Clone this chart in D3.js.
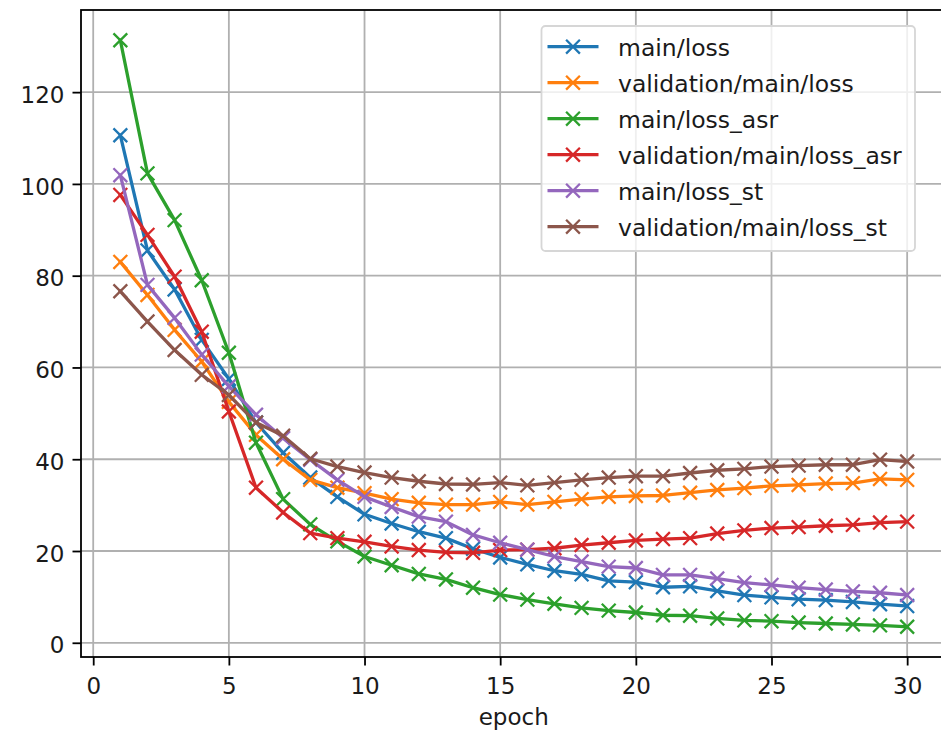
<!DOCTYPE html>
<html>
<head>
<meta charset="utf-8">
<script src="https://cdn.jsdelivr.net/npm/d3@7"></script>
<style>
body { margin: 0; background: #fff; }
svg { display: block; }
text { font-family: "DejaVu Sans", sans-serif; }
</style>
</head>
<body>
<script>
var epochs = d3.range(1, 31);
var seriesNames = ['main/loss', 'validation/main/loss', 'main/loss_asr',
                   'validation/main/loss_asr', 'main/loss_st', 'validation/main/loss_st'];
var seriesColors = ['#1f77b4', '#ff7f0e', '#2ca02c', '#d62728', '#9467bd', '#8c564b'];

var mainLoss = [110.6, 85.5, 77.0, 66.0, 57.5, 48.0, 41.4, 36.0, 31.8, 28.0,
                26.0, 24.2, 22.8, 20.5, 18.6, 17.1, 15.7, 14.9, 13.5, 13.2,
                12.1, 12.3, 11.3, 10.4, 9.9, 9.5, 9.3, 8.9, 8.4, 8.0];
var valLoss = [83.0, 75.8, 68.2, 61.3, 52.5, 45.3, 40.0, 35.5, 33.8, 32.6,
               31.3, 30.5, 30.1, 30.1, 30.7, 30.1, 30.7, 31.3, 31.8, 32.0,
               32.1, 32.7, 33.3, 33.7, 34.2, 34.4, 34.7, 34.8, 35.7, 35.5];
var mainLossAsr = [131.3, 102.3, 92.1, 79.0, 63.2, 43.6, 31.3, 25.8, 22.1, 18.8,
                   16.9, 15.0, 13.8, 12.0, 10.5, 9.4, 8.5, 7.6, 7.0, 6.6,
                   6.0, 5.9, 5.3, 4.9, 4.7, 4.4, 4.2, 4.0, 3.8, 3.5];
var valLossAsr = [97.6, 88.9, 79.8, 67.8, 50.4, 33.8, 28.4, 23.9, 22.8, 22.0,
                  21.0, 20.2, 19.7, 19.6, 20.2, 20.3, 20.6, 21.3, 21.8, 22.3,
                  22.6, 22.8, 23.8, 24.5, 25.0, 25.2, 25.5, 25.7, 26.2, 26.4];
var mainLossSt = [101.9, 78.0, 70.8, 62.8, 55.9, 49.7, 44.6, 39.9, 35.5, 31.8,
                  29.6, 27.5, 26.4, 23.5, 21.8, 20.3, 18.8, 17.7, 16.6, 16.3,
                  14.8, 14.8, 14.0, 13.1, 12.6, 12.0, 11.6, 11.2, 10.9, 10.4];
var valLossSt = [76.6, 70.0, 63.8, 58.4, 54.0, 48.0, 45.1, 40.1, 38.4, 37.1,
                 36.0, 35.2, 34.6, 34.5, 34.9, 34.3, 34.9, 35.5, 36.0, 36.3,
                 36.3, 37.0, 37.6, 37.9, 38.4, 38.6, 38.8, 38.8, 39.9, 39.5];

var xTicks = [0, 5, 10, 15, 20, 25, 30];
var yTicks = [0, 20, 40, 60, 80, 100, 120];

var allSeries = [mainLoss, valLoss, mainLossAsr, valLossAsr, mainLossSt, valLossSt];

var x = d3.scaleLinear().domain([-0.45, 31.45]).range([81, 946.5]);
var y = d3.scaleLinear().domain([-3.1, 137.9]).range([657, 10]);

var svg = d3.select("body").append("svg").attr("width", 941).attr("height", 734);

// grid
svg.append("g").selectAll("line")
    .data(xTicks)
    .enter().append("line")
        .attr("x1", function(d){ return x(d); })
        .attr("x2", function(d){ return x(d); })
        .attr("y1", y.range()[0])
        .attr("y2", y.range()[1])
        .attr("stroke", "#b0b0b0")
        .attr("stroke-width", 1.8);
svg.append("g").selectAll("line")
    .data(yTicks)
    .enter().append("line")
        .attr("x1", x.range()[0])
        .attr("x2", x.range()[1])
        .attr("y1", function(d){ return y(d); })
        .attr("y2", function(d){ return y(d); })
        .attr("stroke", "#b0b0b0")
        .attr("stroke-width", 1.8);

// series
var line = d3.line()
    .x(function(d, i){ return x(epochs[i]); })
    .y(function(d){ return y(d); });

var m = 6.9;
allSeries.forEach(function(vals, k){
    svg.append("path")
        .datum(vals)
        .attr("d", line)
        .attr("fill", "none")
        .attr("stroke", seriesColors[k])
        .attr("stroke-width", 3.3)
        .attr("stroke-linejoin", "round")
        .attr("stroke-linecap", "square");
    svg.append("g").selectAll("path")
        .data(vals)
        .enter().append("path")
            .attr("d", function(d, i){
                var cx = x(epochs[i]), cy = y(d);
                return "M" + (cx - m) + "," + (cy - m) + "L" + (cx + m) + "," + (cy + m) +
                       "M" + (cx - m) + "," + (cy + m) + "L" + (cx + m) + "," + (cy - m);
            })
            .attr("stroke", seriesColors[k])
            .attr("stroke-width", 2.3);
});

// axes
var xAxis = d3.axisBottom(x).tickValues(xTicks).tickSize(8.5).tickPadding(12).tickSizeOuter(0);
var yAxis = d3.axisLeft(y).tickValues(yTicks).tickSize(8.5).tickPadding(8).tickSizeOuter(0);

var gx = svg.append("g")
    .attr("transform", "translate(0," + y.range()[0] + ")")
    .call(xAxis);
var gy = svg.append("g")
    .attr("transform", "translate(" + x.range()[0] + ",0)")
    .call(yAxis);

[gx, gy].forEach(function(g){
    g.select(".domain").remove();
    g.selectAll(".tick line").attr("stroke", "#000").attr("stroke-width", 1.8);
    g.selectAll(".tick text").attr("fill", "#1a1a1a").attr("font-size", 23)
        .attr("font-family", "DejaVu Sans");
});
gy.selectAll(".tick text").attr("dy", "0.44em");

// spines
svg.append("rect")
    .attr("x", x.range()[0])
    .attr("y", y.range()[1])
    .attr("width", x.range()[1] - x.range()[0])
    .attr("height", y.range()[0] - y.range()[1])
    .attr("fill", "none")
    .attr("stroke", "#000")
    .attr("stroke-width", 1.8);

svg.append("text")
    .attr("x", (x.range()[0] + x.range()[1]) / 2)
    .attr("y", 725)
    .attr("text-anchor", "middle")
    .attr("font-size", 23)
    .attr("fill", "#1a1a1a")
    .text("epoch");

// legend
var legend = svg.append("g");
legend.append("rect")
    .attr("x", 541.5)
    .attr("y", 26)
    .attr("width", 373.5)
    .attr("height", 225)
    .attr("rx", 4)
    .attr("fill", "#fff")
    .attr("fill-opacity", 0.8)
    .attr("stroke", "#d6d6d6")
    .attr("stroke-width", 1.8);

var rows = legend.selectAll("g.row")
    .data(seriesNames)
    .enter().append("g")
        .attr("class", "row")
        .attr("transform", function(d, i){ return "translate(0," + (46.7 + i * 36) + ")"; });
rows.append("line")
    .attr("x1", 547.5).attr("x2", 598.5)
    .attr("y1", 0).attr("y2", 0)
    .attr("stroke", function(d, i){ return seriesColors[i]; })
    .attr("stroke-width", 3.3);
rows.append("path")
    .attr("d", "M" + (573 - m) + "," + (-m) + "L" + (573 + m) + "," + m +
               "M" + (573 - m) + "," + m + "L" + (573 + m) + "," + (-m))
    .attr("stroke", function(d, i){ return seriesColors[i]; })
    .attr("stroke-width", 2.3);
rows.append("text")
    .attr("x", 618)
    .attr("y", 9.3)
    .attr("font-size", 23.5)
    .attr("fill", "#1a1a1a")
    .text(function(d){ return d; });
</script>
</body>
</html>
